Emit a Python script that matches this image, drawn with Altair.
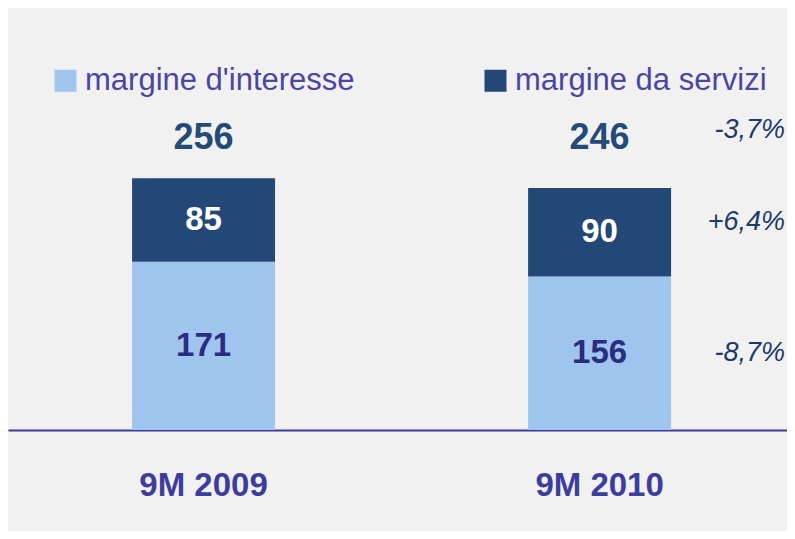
import altair as alt
import pandas as pd

categories = ["9M 2009", "9M 2010"]
series = ["margine d'interesse", "margine da servizi"]
interest = [171, 156]
services = [85, 90]
totals = [256, 246]
change_labels = ["-8,7%", "+6,4%", "-3,7%"]
change_rows = [78, 211, 305]
total_row = 297

FONT = "Liberation Sans"
LIGHT = "#9fc5ef"
DARK = "#234876"

rows = []
for c, a, b in zip(categories, interest, services):
    rows.append({"cat": c, "series": series[0], "y0": 0, "y1": a, "mid": a / 2, "label": str(a), "tcol": "#2a2c80"})
    rows.append({"cat": c, "series": series[1], "y0": a, "y1": a + b, "mid": a + b / 2, "label": str(b), "tcol": "#ffffff"})
bars_df = pd.DataFrame(rows)
tot_df = pd.DataFrame({"cat": categories, "total": [str(t) for t in totals], "y": [total_row] * len(totals)})
chg_df = pd.DataFrame({"label": change_labels, "y": change_rows})

yscale = alt.Scale(domain=[0, 429], nice=False, zero=True)
xenc = alt.X(
    "cat:N",
    sort=categories,
    scale=alt.Scale(paddingInner=0.639, paddingOuter=0.303, align=0.517),
    axis=alt.Axis(
        title=None, labelAngle=0, labelFontSize=33, labelFontWeight="bold",
        labelColor="#3d3d9e", labelFont=FONT, labelPadding=39, ticks=False,
        tickSize=0, domainColor="#3a3a9a", domainWidth=2, grid=False,
    ),
)

bars = alt.Chart(bars_df).mark_bar().encode(
    x=xenc,
    y=alt.Y("y0:Q", scale=yscale, axis=None),
    y2="y1:Q",
    color=alt.Color(
        "series:N",
        scale=alt.Scale(domain=series, range=[LIGHT, DARK]),
        legend=alt.Legend(
            title=None, orient="none", legendX=42, legendY=57, direction="horizontal",
            symbolType="square", symbolSize=484, symbolStrokeWidth=0, symbolOpacity=1,
            labelFontSize=31, labelFont=FONT, labelColor="#4b45a3", labelOffset=4,
            columnPadding=125, padding=0, labelLimit=400,
        ),
    ),
)

seg_text = alt.Chart(bars_df).mark_text(font=FONT, fontSize=33, fontWeight="bold").encode(
    x=alt.X("cat:N", sort=categories),
    y=alt.Y("mid:Q", scale=yscale),
    text="label:N",
    color=alt.Color("tcol:N", scale=None),
)

tot_text = alt.Chart(tot_df).mark_text(font=FONT, fontSize=36, fontWeight="bold", color="#234b75").encode(
    x=alt.X("cat:N", sort=categories),
    y=alt.Y("y:Q", scale=yscale),
    text="total:N",
)

chg_text = alt.Chart(chg_df).mark_text(font=FONT, fontSize=27, fontStyle="italic", color="#1c3a6c", align="right").encode(
    x=alt.value(777),
    y=alt.Y("y:Q", scale=yscale),
    text="label:N",
)

chart = (
    alt.layer(bars, seg_text, tot_text, chg_text)
    .properties(
        width=779, height=422, background="#f1f1f1",
        padding={"left": 0, "top": 0, "right": 0, "bottom": 101},
        autosize=alt.AutoSizeParams(type="none"),
    )
    .configure_view(stroke=None)
)

chart.save("out.html", embed_options={"renderer": "svg", "actions": False})
